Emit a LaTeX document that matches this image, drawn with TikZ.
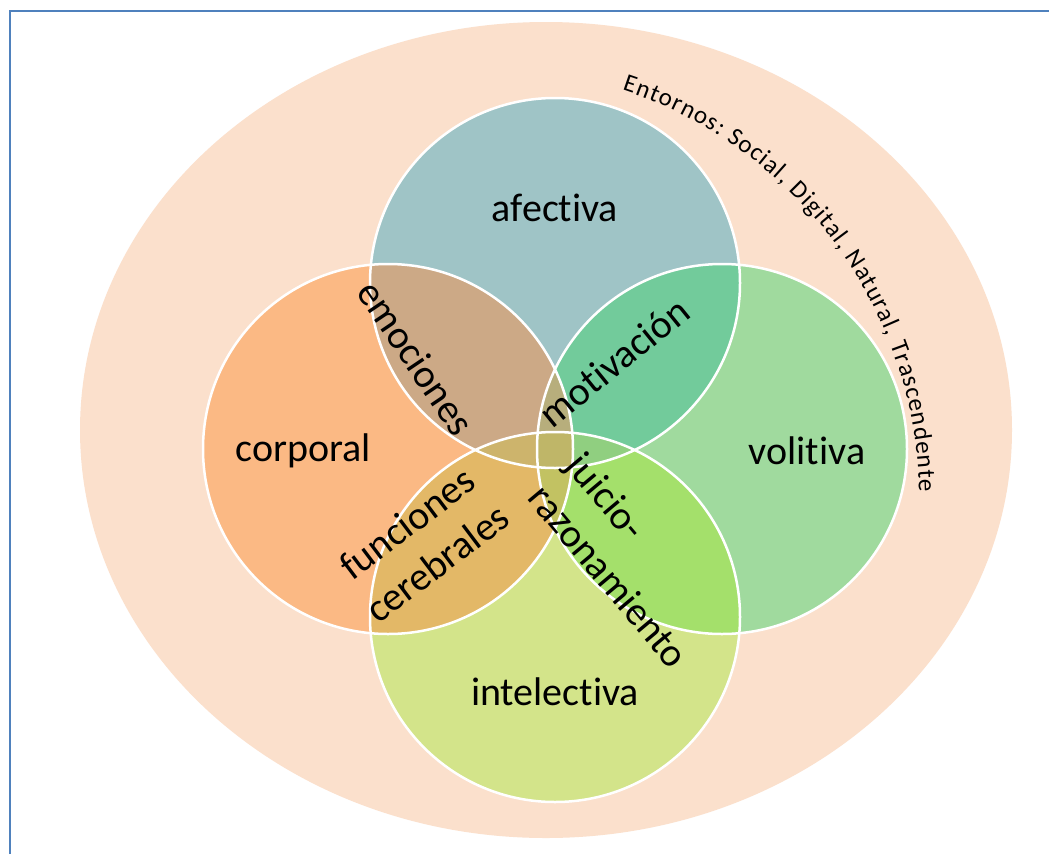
\documentclass[tikz,border=0pt]{standalone}
\usepackage{fontspec}
\setmainfont{Carlito}[Ligatures={NoCommon}]
\usetikzlibrary{decorations.text}
\definecolor{frameblue}{HTML}{4F81BD}
\definecolor{peach}{HTML}{FBE0CC}
\definecolor{colA}{HTML}{9FC4C6}
\definecolor{colC}{HTML}{FBB984}
\definecolor{colV}{HTML}{A0DA9E}
\definecolor{colI}{HTML}{D3E48A}
\definecolor{colAC}{HTML}{CCA986}
\definecolor{colAV}{HTML}{72CB9B}
\definecolor{colCI}{HTML}{E3B867}
\definecolor{colVI}{HTML}{A4E06B}
\definecolor{colACV}{HTML}{B7AE7C}
\definecolor{colACI}{HTML}{CDB46C}
\definecolor{colAVI}{HTML}{90CF80}
\definecolor{colCVI}{HTML}{C2C262}
\definecolor{colACVI}{HTML}{BFB668}
\newcommand{\envfont}{\fontsize{25}{30}\selectfont}
\tikzset{
  biglabel/.style={font=\fontsize{40}{50}\selectfont, text=black, inner sep=0pt},
  ring/.style={draw=white, line width=2.5pt},
  framestyle/.style={draw=frameblue, line width=2.5pt}
}
\def\pA{(555,283) circle[radius=185]}
\def\pC{(388,449) circle[radius=185]}
\def\pV{(722,449) circle[radius=185]}
\def\pI{(555,617) circle[radius=185]}
\begin{document}
\begin{tikzpicture}[x=1pt,y=-1pt]
\useasboundingbox (0,0) rectangle (1049,854);
\fill[white] (0,0) rectangle (1049,854);
\coordinate (f1) at (10,854);
\coordinate (f2) at (10,11);
\coordinate (f3) at (1049,11);
\draw[framestyle] (f1) -- (f2) -- (f3);
% environment ellipse
\fill[peach] (546,430) ellipse[x radius=466, y radius=408];
% circles
\fill[colA] \pA;
\fill[colC] \pC;
\fill[colV] \pV;
\fill[colI] \pI;
\begin{scope}\clip \pA; \fill[colAC] \pC; \fill[colAV] \pV; \end{scope}
\begin{scope}\clip \pC; \fill[colCI] \pI; \end{scope}
\begin{scope}\clip \pV; \fill[colVI] \pI; \end{scope}
\begin{scope}\clip \pA; \clip \pC; \fill[colACV] \pV; \fill[colACI] \pI; \end{scope}
\begin{scope}\clip \pA; \clip \pV; \fill[colAVI] \pI; \end{scope}
\begin{scope}\clip \pC; \clip \pV; \fill[colCVI] \pI; \end{scope}
\begin{scope}\clip \pA; \clip \pC; \clip \pV; \fill[colACVI] \pI; \end{scope}
\draw[ring] \pA; \draw[ring] \pC; \draw[ring] \pV; \draw[ring] \pI;
% labels
\node[biglabel] (afectiva) at (555,208) {afectiva};
\node[biglabel] (corporal) at (303,451) {corporal};
\node[biglabel] (volitiva) at (807,451) {volitiva};
\node[biglabel] (intelectiva) at (555,692) {intelectiva};
\node[biglabel, rotate=-56] (emociones) at (416,358) {emociones};
\node[biglabel, rotate=39] (motivacion) at (614,362) {motivación};
\node[biglabel, rotate=37, align=center] (funciones) at (422,543) {funciones\\cerebrales};
\node[biglabel, rotate=-50, align=left] (juicio) at (628,560) {juicio-\\razonamiento};
% curved text
\coordinate (arcstart) at (622,90);
\path[font=\envfont, decorate, decoration={text along path, text align=fit to path,
  text={|\envfont|Entornos: Social, Digital, Natural, Trascendente}}]
  (arcstart) arc[start angle=-72, end angle=-1, radius=430];
\end{tikzpicture}
\end{document}
